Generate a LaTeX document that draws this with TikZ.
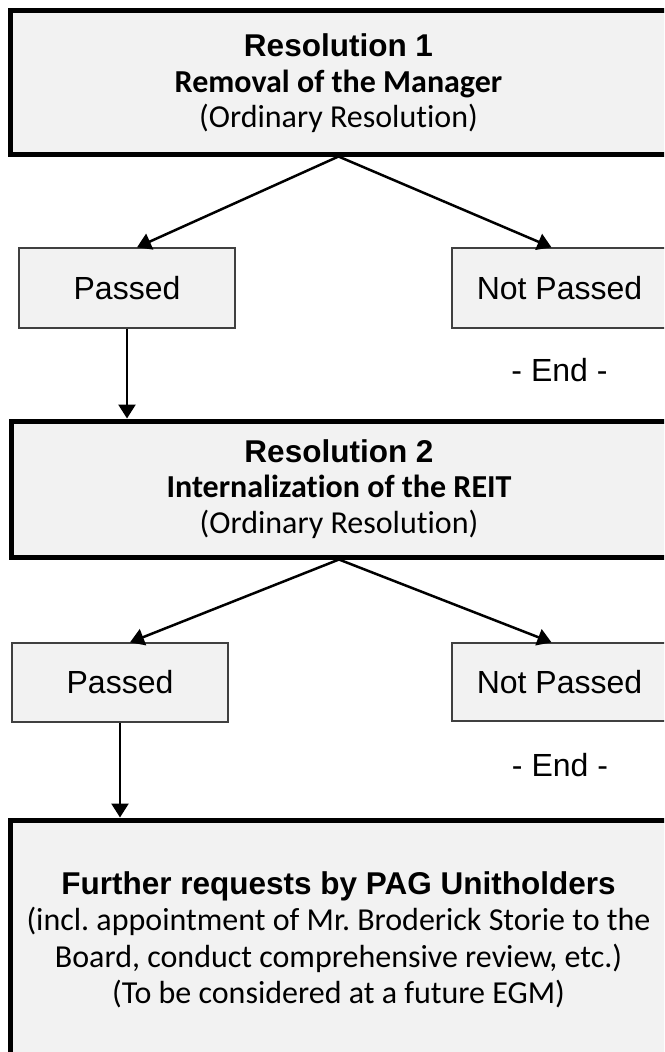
\documentclass[tikz,border=0pt]{standalone}
\usepackage{fontspec}
\setmainfont{Carlito}[Ligatures=NoCommon]
\newfontfamily\arialfont{Liberation Sans}
\usetikzlibrary{arrows.meta}
\frenchspacing
\definecolor{boxfill}{HTML}{F2F2F2}
\definecolor{thinline}{HTML}{404040}
\newcommand{\headfont}{\arialfont\bfseries\fontsize{31.5}{35.5}\selectfont}
\tikzset{
  resbox/.style={draw=black, line width=5pt, fill=boxfill, align=center, inner sep=0pt,
    font=\fontsize{32}{35.5}\selectfont},
  outbox/.style={draw=thinline, line width=1.3pt, fill=boxfill, inner sep=0pt,
    minimum width=216pt, minimum height=80pt, font=\arialfont\fontsize{32}{36}\selectfont},
  endlabel/.style={font=\arialfont\fontsize{32}{36}\selectfont, inner sep=0pt},
  conn/.style={line width=2.5pt, -{Triangle[width=17pt,length=14pt]}},
}
\begin{document}
\begin{tikzpicture}[x=1pt,y=-1pt]
\useasboundingbox (0,0) rectangle (664,1052);
\clip (0,0) rectangle (664,1052);
\fill[white] (0,0) rectangle (664,1052);

\node[resbox, minimum width=657pt, minimum height=144pt] (r1) at (338.5,82)
  {\rule{0pt}{26pt}{\headfont Resolution 1}\\ {\bfseries Removal of the Manager}\\ (Ordinary Resolution)};

\node[outbox] (p1) at (127,288) {Passed};
\node[outbox, minimum width=215pt] (n1) at (559.5,288) {Not Passed};
\node[endlabel] (e1) at (559.5,370) {- End -};

\node[resbox, minimum width=656pt, minimum height=136pt] (r2) at (339,489)
  {{\headfont Resolution 2}\\ {\bfseries Internalization of the REIT}\\ (Ordinary Resolution)};

\node[outbox, minimum height=79pt] (p2) at (120,682.5) {Passed};
\node[outbox, minimum width=215pt, minimum height=78pt] (n2) at (559.5,682) {Not Passed};
\node[endlabel] (e2) at (560,765) {- End -};

\node[resbox, minimum width=657pt, minimum height=240pt, font=\fontsize{32}{36.5}\selectfont] (f) at (338.5,940)
  {{\headfont Further requests by PAG Unitholders}\\
   (incl. appointment of Mr. Broderick Storie to the\\
   Board, conduct comprehensive review, etc.)\\
   (To be considered at a future EGM)};

\draw[conn] (r1.south) -- ([xshift=10pt]p1.north);
\draw[conn] (r1.south) -- ([xshift=-8pt]n1.north);
\draw[conn] (p1.south) -- (p1.south |- r2.north);
\draw[conn] (r2.south) -- ([xshift=10pt]p2.north);
\draw[conn] (r2.south) -- ([xshift=-8pt]n2.north);
\draw[conn] (p2.south) -- (p2.south |- f.north);
\end{tikzpicture}
\end{document}
